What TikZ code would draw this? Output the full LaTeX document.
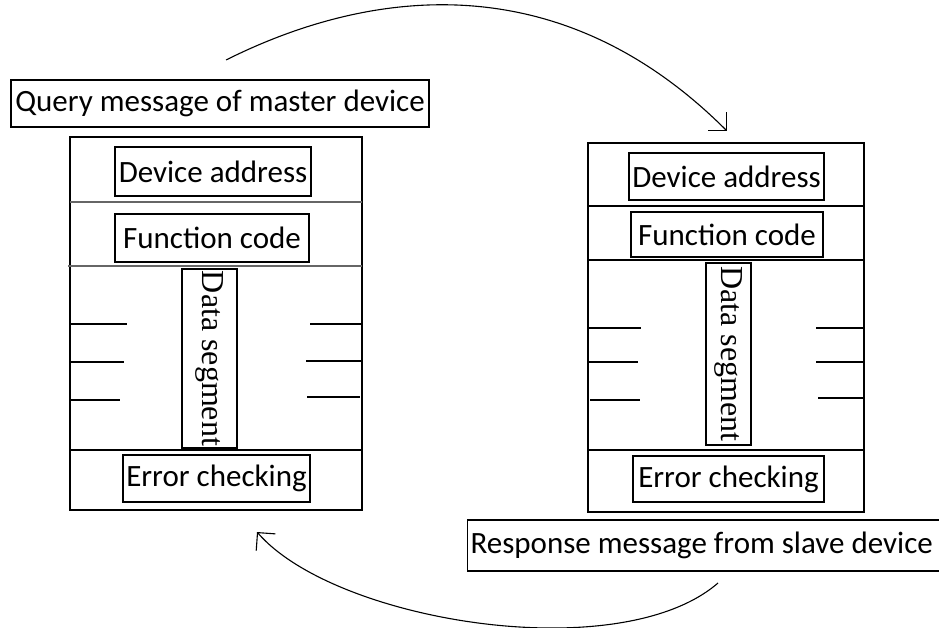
\documentclass[tikz,border=0pt]{standalone}
\usepackage{fontspec}
\setmainfont{Carlito}
\newfontfamily\datafont{Liberation Serif}
\usetikzlibrary{arrows.meta, positioning}

\tikzset{
    field/.style={draw, line width=1.2pt, inner sep=0pt, font=\fontsize{31}{36}\selectfont},
    msgbox/.style={draw, line width=1.3pt, inner sep=0pt},
    datafield/.style={draw, line width=1.2pt, inner sep=0pt, rotate=-90, font=\datafont\fontsize{32}{36}\selectfont},
    divider/.style={line width=1.3pt},
    tick/.style={line width=1.1pt},
    flow/.style={line width=1.1pt, -{Straight Barb[angle=90:18pt]}},
}

\begin{document}
\begin{tikzpicture}[x=1pt, y=-1pt]
        \useasboundingbox (0,0) rectangle (939,627);

        % query message of the master
        \node[field, minimum width=418, minimum height=47] (qtitle) at (220,103.5) {Query message of master device};
        \node[msgbox, minimum width=292, minimum height=373] (qframe) at (216,323.5) {};
        \node[field, minimum width=196, minimum height=49] (qaddr) at (213,171.5) {Device address};
        \node[field, minimum width=194, minimum height=48] (qfunc) at (212,238) {Function code};
        \node[datafield, minimum width=179, minimum height=55] (qdata) at (209.5,358.5) {Data segment};
        \node[field, minimum width=187, minimum height=47] (qcheck) at (216.5,478.5) {Error checking};

        \draw[divider, black!60] (70,202) -- (362,202);
        \draw[divider, black!60] (68,266) -- (362,266);
        \draw[divider] (70,450) -- (362,450);

        \draw[tick] (70,324) -- (127,324);
        \draw[tick] (70,362) -- (124,362);
        \draw[tick] (70,400) -- (120,400);
        \draw[tick] (310,324) -- (362,324);
        \draw[tick] (306,361) -- (362,361);
        \draw[tick] (307,397) -- (360,397);

        % response message of the slave
        \node[msgbox, minimum width=276, minimum height=369] (rframe) at (726,327.5) {};
        \node[field, minimum width=195, minimum height=47] (raddr) at (726.5,176.5) {Device address};
        \node[field, minimum width=192, minimum height=45] (rfunc) at (727,234.5) {Function code};
        \node[datafield, minimum width=182, minimum height=45] (rdata) at (728.5,354) {Data segment};
        \node[field, minimum width=191, minimum height=46] (rcheck) at (728.5,479) {Error checking};
        \node[field, anchor=west, minimum height=51, text width=540, inner xsep=3pt, align=flush left] (rtitle) at (467,545.5) {Response message from slave device};

        \draw[divider] (588,206) -- (864,206);
        \draw[divider] (588,260) -- (864,260);
        \draw[divider] (588,450) -- (864,450);

        \draw[tick] (588,328) -- (641,328);
        \draw[tick] (588,362) -- (638,362);
        \draw[tick] (590,400) -- (640,400);
        \draw[tick] (816,328) -- (864,328);
        \draw[tick] (816,362) -- (864,362);
        \draw[tick] (818,398) -- (864,398);

        % the two transfers
        \coordinate (sendA) at (226,60);
        \coordinate (sendB) at (727,131);
        \coordinate (backA) at (718,583);
        \coordinate (backB) at (257,532);

        \draw[flow] (sendA) .. controls (374,-14) and (562,-34) .. (sendB);
        \draw[flow] (backA) .. controls (620,668) and (335,622) .. (backB);
    \end{tikzpicture}
\end{document}
